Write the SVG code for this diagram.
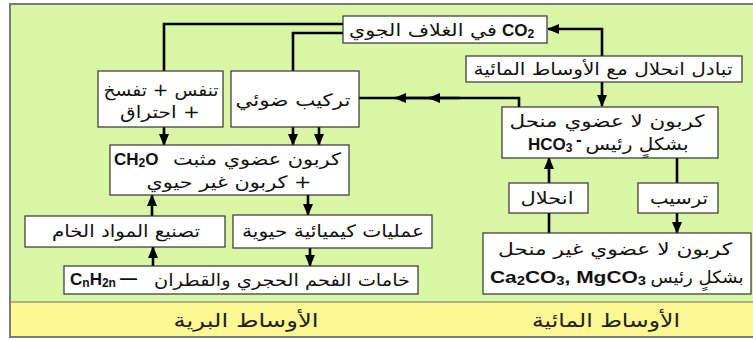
<svg xmlns="http://www.w3.org/2000/svg" width="753" height="340" viewBox="0 0 753 340">
<style>
.box{fill:#ffffff;stroke:#333333;stroke-width:1.2}
.ar{font-family:"DejaVu Sans",sans-serif;font-size:17px;fill:#111}
.f{font-family:"Liberation Sans",Arial,sans-serif;font-weight:bold;font-size:17px;fill:#111}
.band{font-family:"DejaVu Sans",sans-serif;font-size:19px;fill:#222}
.c{fill:none;stroke:#000;stroke-width:2.6}
.a{fill:none;stroke:#000;stroke-width:2.6;marker-end:url(#ah)}
</style>
<defs>
<marker id="ah" markerUnits="userSpaceOnUse" markerWidth="12" markerHeight="10" refX="11" refY="5" orient="auto">
<path d="M0,0 L12,5 L0,10 z" fill="#000"/>
</marker>
</defs>
<g id="background">
<rect x="10" y="4" width="760" height="333" fill="#d9f6a6" stroke="#7a7a7a" stroke-width="2"/>
<rect x="11" y="302" width="760" height="34" fill="#fff793"/>
<line x1="10" y1="302" x2="753" y2="302" stroke="#8d9c74" stroke-width="1.5"/>
<text class="band" x="246" y="327" text-anchor="middle" textLength="145" lengthAdjust="spacingAndGlyphs">الأوساط البرية</text>
<text class="band" x="606" y="327" text-anchor="middle" textLength="148" lengthAdjust="spacingAndGlyphs">الأوساط المائية</text>
</g>
<g id="connectors">
<polyline class="c" points="164,71 164,24 343,24"/>
<polyline class="c" points="343,33 293,33 293,71"/>
<polyline class="a" points="602,56 602,29 548,29"/>
<polyline class="a" points="602,82 602,106"/>
<polyline class="c" points="519,107 519,98 359,98"/>
<path class="a" d="M460,98 L395,98"/>
<path class="a" d="M440,98 L429,98"/>
<path class="a" d="M164,127 L164,145"/>
<path class="a" d="M293,127 L293,145"/>
<path class="a" d="M319,127 L319,145"/>
<path class="a" d="M308,195 L308,215"/>
<path class="a" d="M310,248 L310,266"/>
<path class="a" d="M153,266 L153,247"/>
<path class="a" d="M152,216 L152,195"/>
<path class="a" d="M549,233 L549,158"/>
<path class="a" d="M677,158 L677,233"/>
</g>
<g id="co2">
<rect class="box" x="343" y="16" width="204" height="27"/>
<text class="ar" x="423" y="36" text-anchor="middle" textLength="148" lengthAdjust="spacingAndGlyphs">في الغلاف الجوي</text>
<text class="f" x="502" y="36">CO<tspan font-size="12" dy="2">2</tspan></text>
</g>
<g id="respiration">
<rect class="box" x="98" y="71" width="125" height="56"/>
<text class="ar" x="161" y="96" text-anchor="middle" textLength="115" lengthAdjust="spacingAndGlyphs">تنفس + تفسخ</text>
<text class="ar" x="160" y="118" text-anchor="middle" direction="rtl" textLength="80" lengthAdjust="spacingAndGlyphs">+ احتراق</text>
</g>
<g id="photosynthesis">
<rect class="box" x="231" y="71" width="128" height="56"/>
<text class="ar" x="293" y="106" text-anchor="middle" textLength="115" lengthAdjust="spacingAndGlyphs">تركيب ضوئي</text>
</g>
<g id="exchange">
<rect class="box" x="466" y="56" width="276" height="26"/>
<text class="ar" x="603" y="75" text-anchor="middle" textLength="259" lengthAdjust="spacingAndGlyphs">تبادل انحلال مع الأوساط المائية</text>
</g>
<g id="hco3">
<rect class="box" x="502" y="107" width="216" height="51"/>
<text class="ar" x="607" y="127" text-anchor="middle" textLength="195" lengthAdjust="spacingAndGlyphs">كربون لا عضوي منحل</text>
<text class="ar" x="637" y="150" text-anchor="middle" textLength="103" lengthAdjust="spacingAndGlyphs">بشكلٍ رئيس</text>
<text class="f" x="528" y="150">HCO<tspan font-size="12" dy="2">3</tspan></text>
<text class="f" x="576" y="145" font-size="11">-</text>
</g>
<g id="dissolution">
<rect class="box" x="509" y="183" width="79" height="30"/>
<text class="ar" x="547" y="204" text-anchor="middle" textLength="53" lengthAdjust="spacingAndGlyphs">انحلال</text>
</g>
<g id="precipitation">
<rect class="box" x="638" y="183" width="80" height="30"/>
<text class="ar" x="679" y="204" text-anchor="middle" textLength="58" lengthAdjust="spacingAndGlyphs">ترسيب</text>
</g>
<g id="carbonates">
<rect class="box" x="483" y="233" width="268" height="61"/>
<text class="ar" x="615" y="255" text-anchor="middle" textLength="234" lengthAdjust="spacingAndGlyphs">كربون لا عضوي غير منحل</text>
<text class="f" x="490" y="283" textLength="156" lengthAdjust="spacingAndGlyphs">Ca<tspan font-size="12" dy="2">2</tspan><tspan dy="-2">CO</tspan><tspan font-size="12" dy="2">3</tspan><tspan dy="-2">, MgCO</tspan><tspan font-size="12" dy="2">3</tspan></text>
<text class="ar" x="697" y="283" text-anchor="middle" textLength="93" lengthAdjust="spacingAndGlyphs">بشكلٍ رئيس</text>
</g>
<g id="organic">
<rect class="box" x="110" y="145" width="239" height="50"/>
<text class="f" x="114" y="165">CH<tspan font-size="12" dy="2">2</tspan><tspan dy="-2">O</tspan></text>
<text class="ar" x="257" y="165" text-anchor="middle" textLength="168" lengthAdjust="spacingAndGlyphs">كربون عضوي مثبت</text>
<text class="ar" x="229" y="188" text-anchor="middle" direction="rtl" textLength="165" lengthAdjust="spacingAndGlyphs">+ كربون غير حيوي</text>
</g>
<g id="manufacturing">
<rect class="box" x="25" y="216" width="200" height="31"/>
<text class="ar" x="126" y="237" text-anchor="middle" textLength="148" lengthAdjust="spacingAndGlyphs">تصنيع المواد الخام</text>
</g>
<g id="biochemical">
<rect class="box" x="233" y="215" width="199" height="33"/>
<text class="ar" x="333" y="237" text-anchor="middle" textLength="182" lengthAdjust="spacingAndGlyphs">عمليات كيميائية حيوية</text>
</g>
<g id="fossil">
<rect class="box" x="64" y="266" width="354" height="28"/>
<text class="f" x="70" y="285">C<tspan font-size="12" dy="2">n</tspan><tspan dy="-2">H</tspan><tspan font-size="12" dy="2">2n</tspan></text>
<text class="f" x="120" y="284">—</text>
<text class="ar" x="282" y="286" text-anchor="middle" textLength="256" lengthAdjust="spacingAndGlyphs">خامات الفحم الحجري والقطران</text>
</g>
</svg>
